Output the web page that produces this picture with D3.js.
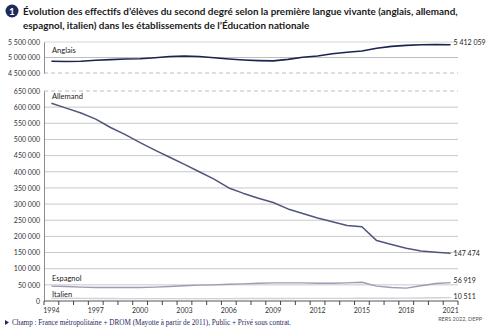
<!DOCTYPE html>
<html>
<head>
<meta charset="utf-8">
<script src="https://cdn.jsdelivr.net/npm/d3@7"></script>
<style>
  body { margin: 0; background: #fff; }
  svg { display: block; }
</style>
</head>
<body>
<div class="chart"></div>
<script>
const years = d3.range(1994, 2022)
const tickYears = [1994, 1997, 2000, 2003, 2006, 2009, 2012, 2015, 2018, 2021]

const anglais = [4880000, 4870000, 4880000, 4910000, 4930000, 4950000, 4960000, 4990000, 5030000, 5050000,
  5030000, 4990000, 4950000, 4920000, 4900000, 4890000, 4940000, 5010000, 5050000, 5120000,
  5170000, 5210000, 5300000, 5360000, 5390000, 5410000, 5415000, 5412059]
const allemand = [612000, 597000, 582000, 563000, 537000, 515000, 490000, 467000, 445000, 423000,
  400000, 377000, 350000, 333000, 318000, 305000, 285000, 271000, 257000, 245000,
  234000, 230000, 187000, 175000, 163000, 155000, 151000, 147474]
const espagnol = [46000, 45000, 43000, 42000, 42000, 42000, 42000, 43000, 45000, 47000,
  49000, 50000, 52000, 53000, 55000, 56000, 56000, 56000, 55000, 55000,
  56000, 58000, 46000, 42000, 40000, 47000, 54000, 56919]
const italien = [8500, 8300, 8000, 7800, 7600, 7500, 7400, 7300, 7200, 7200,
  7300, 7400, 7500, 7600, 7700, 7800, 7900, 8000, 8000, 8100,
  8200, 8300, 8400, 8500, 8800, 9300, 10000, 10511]

const topTicks = [4500000, 5000000, 5500000]
const lowTicks = d3.range(0, 650001, 50000)

const fr = d3.formatLocale({decimal: ",", thousands: " ", grouping: [3], currency: ["", " €"]})
const fmt = fr.format(",d")

const svg = d3.select(".chart").append("svg")
  .attr("width", 500)
  .attr("height", 336)

const font = "Lato, 'Open Sans', sans-serif"

// title
svg.append("circle").attr("cx", 12).attr("cy", 11).attr("r", 6.5).attr("fill", "#1f2a5c")
svg.append("text").attr("x", 12).attr("y", 14.5).attr("text-anchor", "middle")
  .attr("fill", "#fff").attr("font-family", font).attr("font-weight", "bold").attr("font-size", 10)
  .text("1")
const title = svg.append("text").attr("font-family", font).attr("font-weight", "bold")
  .attr("font-size", 9.9).attr("fill", "#1a1a1a")
title.append("tspan").attr("x", 23).attr("y", 15)
  .text("Évolution des effectifs d’élèves du second degré selon la première langue vivante (anglais, allemand,")
title.append("tspan").attr("x", 23).attr("y", 29)
  .text("espagnol, italien) dans les établissements de l’Éducation nationale")

const left = 44, right = 458

const x = d3.scaleBand()
  .domain(years)
  .range([left, right])
  .padding(0)
const cx = d => x(d) + x.bandwidth() / 2

const yTop = d3.scaleLinear().domain([4500000, 5500000]).range([73, 42])
const yLow = d3.scaleLinear().domain([0, 650000]).range([301, 91])

// gridlines
svg.append("g").selectAll("line")
  .data(topTicks)
  .join("line")
  .attr("x1", left).attr("x2", right)
  .attr("y1", d => yTop(d)).attr("y2", d => yTop(d))
  .attr("stroke", d => d === 5500000 ? "#d6d6d6" : "#bdbdbd")
  .attr("stroke-width", 1)
  .attr("stroke-dasharray", d => d === 4500000 ? "4,3" : null)

svg.append("g").selectAll("line")
  .data(lowTicks.filter(d => d > 0))
  .join("line")
  .attr("x1", left).attr("x2", right)
  .attr("y1", d => yLow(d)).attr("y2", d => yLow(d))
  .attr("stroke", d => d === 650000 ? "#bdbdbd" : "#c8c8c8")
  .attr("stroke-width", 1)
  .attr("stroke-dasharray", d => d === 650000 ? "4,3" : null)

// left axes
const axTop = svg.append("g").attr("transform", `translate(${left},0)`)
  .call(d3.axisLeft(yTop).tickValues(topTicks).tickSize(0).tickPadding(4).tickFormat(fmt))
const axLow = svg.append("g").attr("transform", `translate(${left},0)`)
  .call(d3.axisLeft(yLow).tickValues(lowTicks).tickSize(0).tickPadding(4).tickFormat(fmt))
for (const ax of [axTop, axLow]) {
  ax.select(".domain").attr("stroke", "#8c8c8c")
  ax.selectAll("text").attr("font-family", font).attr("font-size", 7).attr("fill", "#333")
}

// x axis
const xAxis = svg.append("g").attr("transform", `translate(0,${yLow(0)})`)
xAxis.append("line").attr("x1", left).attr("x2", right).attr("stroke", "#555")
xAxis.selectAll(".tk")
  .data(years.concat([2022]))
  .join("line")
  .attr("class", "tk")
  .attr("x1", d => d === 2022 ? right : x(d))
  .attr("x2", d => d === 2022 ? right : x(d))
  .attr("y1", 0).attr("y2", 4)
  .attr("stroke", "#444")
xAxis.selectAll("text")
  .data(tickYears)
  .join("text")
  .attr("x", d => cx(d)).attr("y", 12)
  .attr("text-anchor", "middle")
  .attr("font-family", font).attr("font-size", 7).attr("fill", "#333")
  .text(d => d)

// lines
const series = [
  {name: "Anglais", vals: anglais, y: yTop, color: "#1c2350", w: 1.6, ly: 53, vy: 45},
  {name: "Allemand", vals: allemand, y: yLow, color: "#50557a", w: 1.5, ly: 99, vy: 256},
  {name: "Espagnol", vals: espagnol, y: yLow, color: "#9a9db3", w: 1.4, ly: 281, vy: 283},
  {name: "Italien", vals: italien, y: yLow, color: "#cfd1dc", w: 1.4, ly: 297, vy: 299}
]

for (const s of series) {
  const line = d3.line()
    .x((d, i) => cx(years[i]))
    .y(d => s.y(d))
  svg.append("path")
    .datum(s.vals)
    .attr("d", line)
    .attr("fill", "none")
    .attr("stroke", s.color)
    .attr("stroke-width", s.w)
    .attr("stroke-linejoin", "round")
  svg.append("text")
    .attr("x", 52).attr("y", s.ly)
    .attr("font-family", font).attr("font-size", 7.5).attr("fill", "#222")
    .text(s.name)
  svg.append("text")
    .attr("x", cx(2021) + 3).attr("y", s.vy)
    .attr("font-family", font).attr("font-size", 7).attr("fill", "#222")
    .text(fmt(s.vals[s.vals.length - 1]))
}

// footnotes
svg.append("path").attr("d", "M5,320 L9,322.5 L5,325 Z").attr("fill", "#1f2a5c")
svg.append("text").attr("x", 12).attr("y", 325)
  .attr("font-family", "'Liberation Serif', 'DejaVu Serif', serif").attr("font-size", 7.2).attr("fill", "#1f2a5c")
  .text("Champ : France métropolitaine + DROM (Mayotte à partir de 2011), Public + Privé sous contrat.")
svg.append("text").attr("x", 482).attr("y", 321).attr("text-anchor", "end")
  .attr("font-family", font).attr("font-size", 5.5).attr("fill", "#555")
  .text("RERS 2022, DEPP")
</script>
</body>
</html>
